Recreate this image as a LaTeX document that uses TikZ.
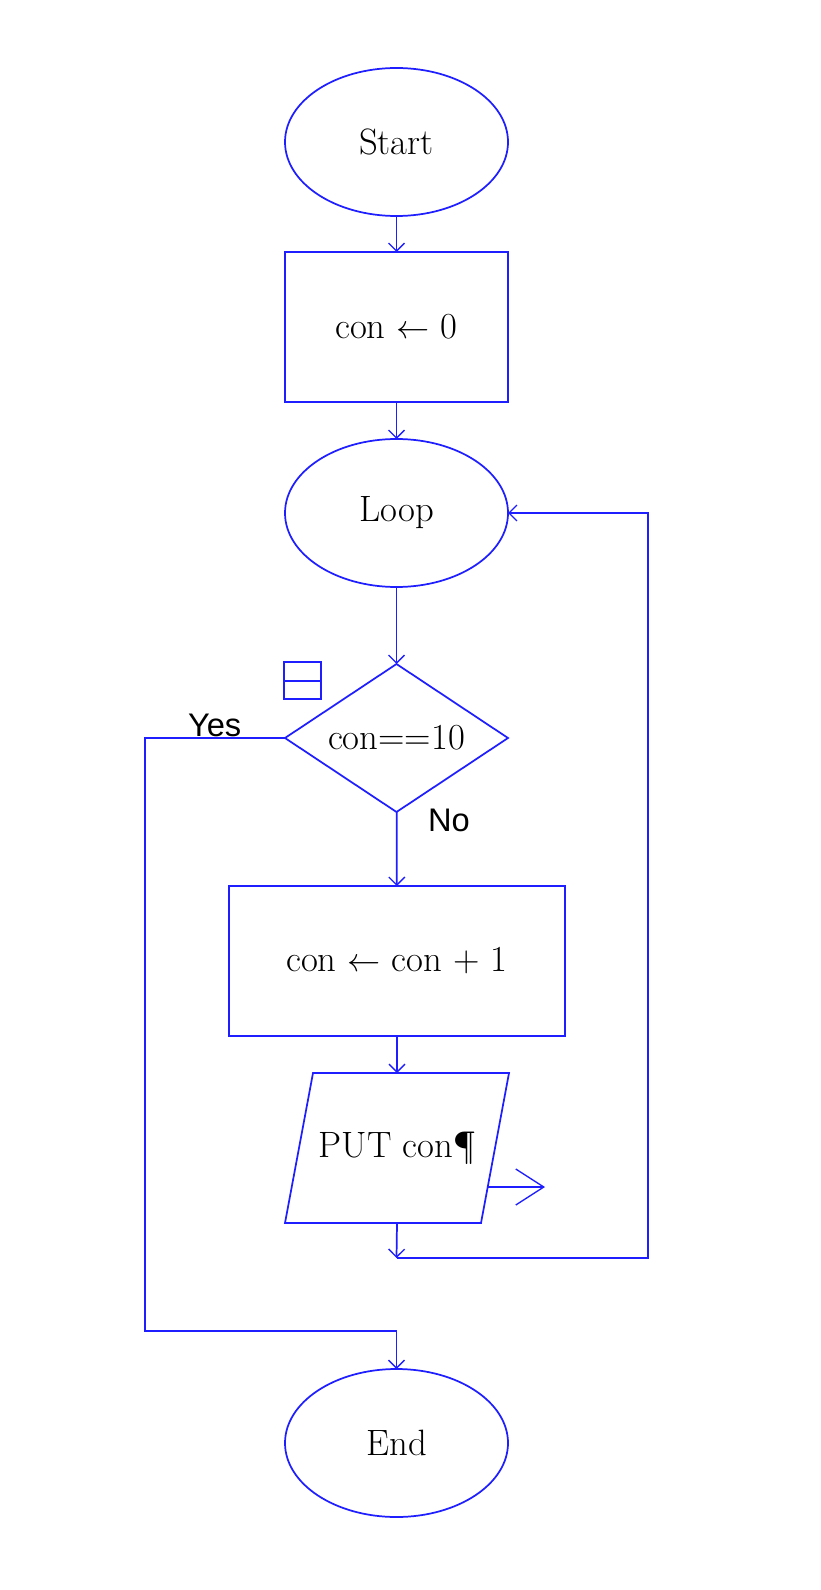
\documentclass[tikz,border=0pt]{standalone}
\usepackage{fontspec}
\newfontfamily\labelfont{Liberation Sans}
\usetikzlibrary{shapes.geometric,arrows.meta,calc}
\definecolor{flowblue}{RGB}{30,30,255}
\begin{document}
\begin{tikzpicture}[x=0.75pt,y=-0.75pt,
  every node/.style={inner sep=0pt,outer sep=0pt,font=\fontsize{27.5}{32}\selectfont},
  line/.style={draw=flowblue,line width=1.3pt},
  arr/.style={line,-{Straight Barb[length=6pt,width=12pt,line width=1pt]}},
  term/.style={ellipse,line,minimum width=223*0.75pt,minimum height=148*0.75pt},
  proc/.style={rectangle,line,minimum height=150*0.75pt},
  cond/.style={diamond,line,aspect=1.507,minimum width=223*0.75pt,minimum height=148*0.75pt},
  lbl/.style={font=\labelfont\fontsize{24.5}{28}\selectfont,anchor=base west}]
\useasboundingbox (0,0) rectangle (820,1590);

% flowchart nodes
\node[term] (start) at (396.5,142) {Start};
\node[proc,minimum width=223*0.75pt] (init) at (396.5,327) {con $\leftarrow$ 0};
\node[term] (loop) at (396.5,513) {Loop};
\node[cond] (test) at (396.5,738) {con==10};
\node[proc,minimum width=336*0.75pt] (inc) at (397,961) {con $\leftarrow$ con + 1};
\node[minimum width=224*0.75pt,minimum height=150*0.75pt] (put) at (397,1148) {PUT con¶};
\node[term] (end) at (396.5,1443) {End};

% parallelogram outline of the output step
\draw[line] ($(put.north west)+(28,0)$) -- (put.north east)
  -- ($(put.south east)+(-28,0)$) -- (put.south west) -- cycle;

% small split box beside the decision
\draw[line] (284,662) rectangle (321,699);
\draw[line] (284,681) -- (321,681);

% branch labels
\node[lbl] (yes) at (188,736) {Yes};
\node[lbl] (no) at (428,831) {No};

% connector end points
\coordinate (outtip) at (545,1187);
\coordinate (outstart) at (488,1187);
\coordinate (joint) at (396.5,1258);
\coordinate (rightcol) at (648,1258);
\coordinate (leftcol) at (145,1331);

% main connectors
\draw[arr] (start) -- (init);
\draw[arr] (init) -- (loop);
\draw[arr] (loop) -- (test);
\draw[arr] (test) -- (inc);
\draw[arr] (inc.south -| put.north) -- (put.north);
\draw[arr] (put.south) -- (joint);
\draw[arr] (joint) -- (rightcol) |- (loop.east);
\draw[arr] (test.west) -| (leftcol) -| (end.north);
\draw[line,-{Straight Barb[length=21pt,width=27pt,line width=1pt]}] (outstart) -- (outtip);
\end{tikzpicture}
\end{document}
